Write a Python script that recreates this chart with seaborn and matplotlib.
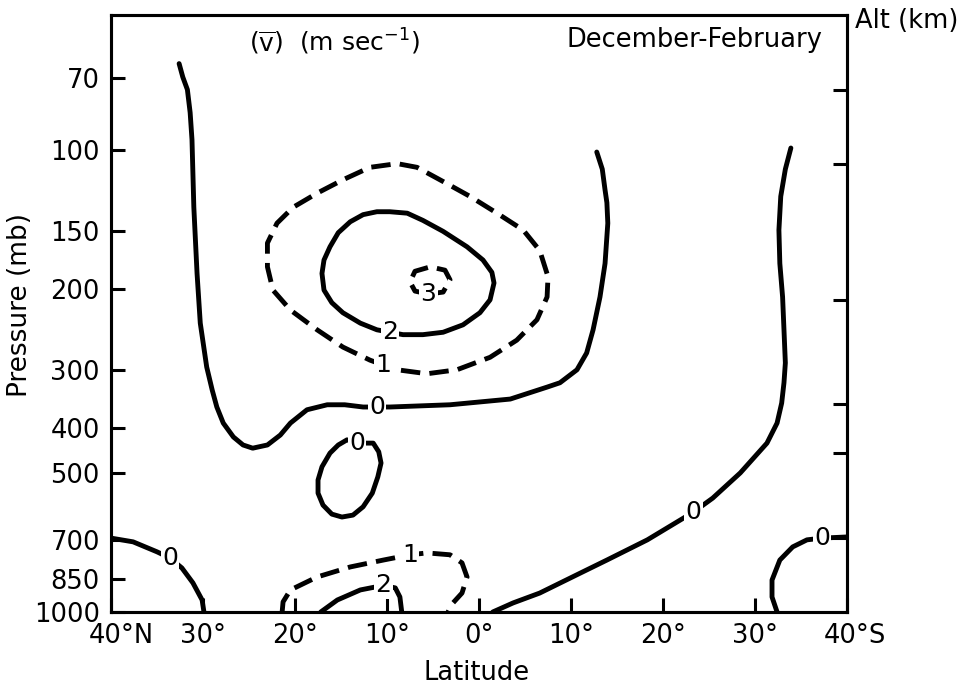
import numpy as np
import pandas as pd
import matplotlib
matplotlib.use("Agg")
import matplotlib.pyplot as plt
import matplotlib.transforms as mtransforms
from matplotlib.ticker import NullLocator
import seaborn as sns

# ---------------- data ----------------
lat_ticks = [40, 30, 20, 10, 0, -10, -20, -30, -40]
lat_tick_labels = ["40°N", "30°", "20°", "10°", "0°", "10°", "20°", "30°", "40°S"]
p_ticks = [70, 100, 150, 200, 300, 400, 500, 700, 850, 1000]
p_tick_labels = ["70", "100", "150", "200", "300", "400", "500", "700", "850", "1000"]
alt_tick_p = [74, 107, 211, 355, 453, 692]          # right-hand altitude ticks (18,16,12,8,6,3 km)

# 0 m/s : large U-shaped contour
a_lat = [32.6, 32.2, 31.7, 31.4, 31.2, 31.0, 30.65, 30.3, 29.6, 29.0, 28.5, 27.8, 26.7, 25.65,
         24.6, 23.0, 21.6, 20.5, 18.7, 16.5, 14.6, 12.6, 11.1, 9.7, 3.15, -3.4, -7.4, -8.8,
         -10.65, -11.7, -12.4, -13.15, -13.7, -14.0, -13.9, -13.7, -13.4, -12.8]
a_p = [65, 69.5, 74, 83, 95, 133, 185, 237, 295, 331, 360, 390, 418, 435,
       442, 435, 414, 390, 365, 356, 356, 360, 360, 360, 356, 346, 326, 319,
       299, 275, 245, 208, 176, 144, 130, 122, 110, 101]
# 0 m/s : small closed cell at 500 mb
b_lat = [13.26, 11.5, 10.9, 10.65, 11.0, 11.6, 12.6, 13.7, 14.9, 16.0, 16.96, 17.5, 17.5,
         17.07, 16.2, 15.3, 14.35, 13.26]
b_p = [431, 431, 450, 476, 510, 553, 592, 617, 623, 614, 587, 553, 518,
       485, 453, 435, 424, 431]
# 1 m/s (dashed) upper cell
c_lat = [10.4, 11.85, 14.8, 17.6, 20.5, 22.4, 23.0, 23.0, 21.96, 20.2, 17.6, 14.8, 11.85, 8.9,
         6.74, 3.9, 0.98, -1.96, -4.8, -6.6, -7.5, -7.4, -6.3, -4.1, -1.2, 2.4, 5.65, 8.9, 10.4]
c_p = [292, 285, 267, 245, 222, 201, 179, 159, 144, 133, 124, 116, 109, 107,
       109, 117, 126, 137, 149, 165, 188, 208, 233, 258, 281, 299, 305, 299, 292]
# 2 m/s upper cell
d_lat = [9.7, 11.1, 12.9, 14.8, 16.0, 16.85, 17.07, 16.85, 16.2, 15.3, 14.0, 12.6, 11.1, 9.7,
         7.8, 6.1, 3.9, 1.3, -0.43, -1.4, -1.63, -1.2, -0.1, 1.74, 3.9, 6.1, 8.26, 9.7]
d_p = [248, 245, 237, 225, 214, 201, 185, 173, 162, 151, 143, 138, 136, 136,
       137, 142, 150, 162, 173, 184, 194, 211, 225, 239, 248, 251, 251, 248]
# 3 m/s (dashed) core
e_lat = [5.5, 3.9, 3.15, 3.7, 5.3, 6.96, 7.5, 6.96, 5.5]
e_p = [205, 203, 191, 182, 179, 183, 193, 202, 205]
# 0 m/s lower left
f_lat = [40.0, 37.6, 35.0, 33.6, 32.3, 31.1, 30.1, 29.9]
f_p = [692, 705, 741, 764, 803, 865, 942, 1000]
# 1 m/s (dashed) lower cell
g_lat = [21.4, 21.3, 20.5, 17.6, 14.0, 10.4, 7.5, 5.65, 3.15, 1.85, 1.3, 1.85, 2.83, 3.37]
g_p = [1000, 951, 896, 840, 799, 772, 752, 745, 752, 783, 840, 910, 956, 1000]
# 2 m/s lower cell
h_lat = [17.2, 15.4, 12.9, 10.4, 9.1, 8.6, 8.4]
h_p = [1000, 942, 896, 876, 887, 928, 1000]
# 0 m/s from the equator to the southern subtropics
i_lat = [-1.5, -3.7, -6.6, -11.0, -13.9, -18.3, -23.3, -25.4, -28.4, -31.3, -32.4, -32.9,
         -33.15, -33.3, -33.15, -33.0, -32.7, -32.6, -32.8, -33.3, -33.9]
i_p = [1000, 956, 910, 824, 772, 698, 608, 567, 500, 431, 390, 353,
       319, 289, 245, 208, 176, 149, 126, 110, 99]
# 0 m/s lower right
j_lat = [-32.4, -31.85, -31.85, -32.7, -34.1, -35.65, -37.3, -40.0]
j_p = [1000, 928, 853, 772, 723, 698, 692, 688]

contours = [
    (a_lat, a_p, "solid", "0", (11.1, 360)),
    (b_lat, b_p, "solid", "0", (13.26, 431)),
    (c_lat, c_p, "dashed", "1", (10.4, 292)),
    (d_lat, d_p, "solid", "2", (9.7, 248)),
    (e_lat, e_p, "dashed", "3", (5.5, 205)),
    (f_lat, f_p, "solid", "0", (33.6, 764)),
    (g_lat, g_p, "dashed", "1", (7.5, 752)),
    (h_lat, h_p, "solid", "2", (10.4, 876)),
    (i_lat, i_p, "solid", "0", (-23.3, 608)),
    (j_lat, j_p, "solid", "0", (-37.3, 692)),
]

# ---------------- figure ----------------
sns.set_style("ticks")
plt.rcParams["font.family"] = ["DejaVu Sans"]
plt.rcParams["mathtext.fontset"] = "dejavusans"
for key in ["text.color", "axes.labelcolor", "xtick.color", "ytick.color", "axes.edgecolor"]:
    plt.rcParams[key] = "black"

fig = plt.figure(figsize=(9.74, 6.89), dpi=100)
ax = fig.add_axes([0.114, 0.1118, 0.7556, 0.8665])

LW = 3.5
for lat, p, style, lab, lab_pos in contours:
    ls = "-" if style == "solid" else (0, (4.0, 1.9))
    sns.lineplot(x=lat, y=p, sort=False, estimator=None, ax=ax, color="black",
                 linewidth=LW, linestyle=ls, legend=False,
                 solid_joinstyle="round", dash_joinstyle="round")
    ax.text(lab_pos[0], lab_pos[1], lab, fontsize=18, ha="center", va="center",
            color="black", zorder=5,
            bbox=dict(boxstyle="square,pad=0.05", facecolor="white", edgecolor="none"))

ax.set_yscale("log")
ax.set_ylim(1000, 51)
ax.set_xlim(40, -40)
ax.set_xticks(lat_ticks)
ax.set_xticklabels(lat_tick_labels)
ax.set_yticks(p_ticks)
ax.set_yticklabels(p_tick_labels)
ax.yaxis.set_minor_locator(NullLocator())
ax.tick_params(axis="both", direction="in", length=10, width=2.2, labelsize=18.5, pad=8)
for s in ax.spines.values():
    s.set_linewidth(2.2)

# centre the degree value (not the hemisphere letter) under the end ticks
xt = ax.get_xticklabels()
for lbl, dx in ((xt[0], 10), (xt[-1], 8)):
    lbl.set_transform(lbl.get_transform() +
                      mtransforms.ScaledTranslation(dx / 100, 0, fig.dpi_scale_trans))

ax.set_xlabel("Latitude", fontsize=18.5)
ax.set_ylabel("Pressure (mb)", fontsize=19)
ax.xaxis.set_label_coords(0.496, -0.080)
ax.yaxis.set_label_coords(-0.106, 0.514)

# right-hand altitude ticks
ax2 = ax.twinx()
ax2.set_yscale("log")
ax2.set_ylim(ax.get_ylim())
ax2.set_yticks(alt_tick_p)
ax2.set_yticklabels([""] * len(alt_tick_p))
ax2.yaxis.set_minor_locator(NullLocator())
ax2.tick_params(axis="y", direction="in", length=10, width=2.2)
for s in ax2.spines.values():
    s.set_linewidth(2.2)

ax.text(0.303, 0.955, r"($\overline{\mathrm{v}}$)  (m sec$^{-1}$)", transform=ax.transAxes,
        fontsize=18, ha="center", va="center")
ax.text(0.967, 0.958, "December-February", transform=ax.transAxes,
        fontsize=18.5, ha="right", va="center")
fig.text(0.878, 0.969, "Alt (km)", fontsize=18.5, ha="left", va="center")

fig.savefig("out.png", dpi=100)
